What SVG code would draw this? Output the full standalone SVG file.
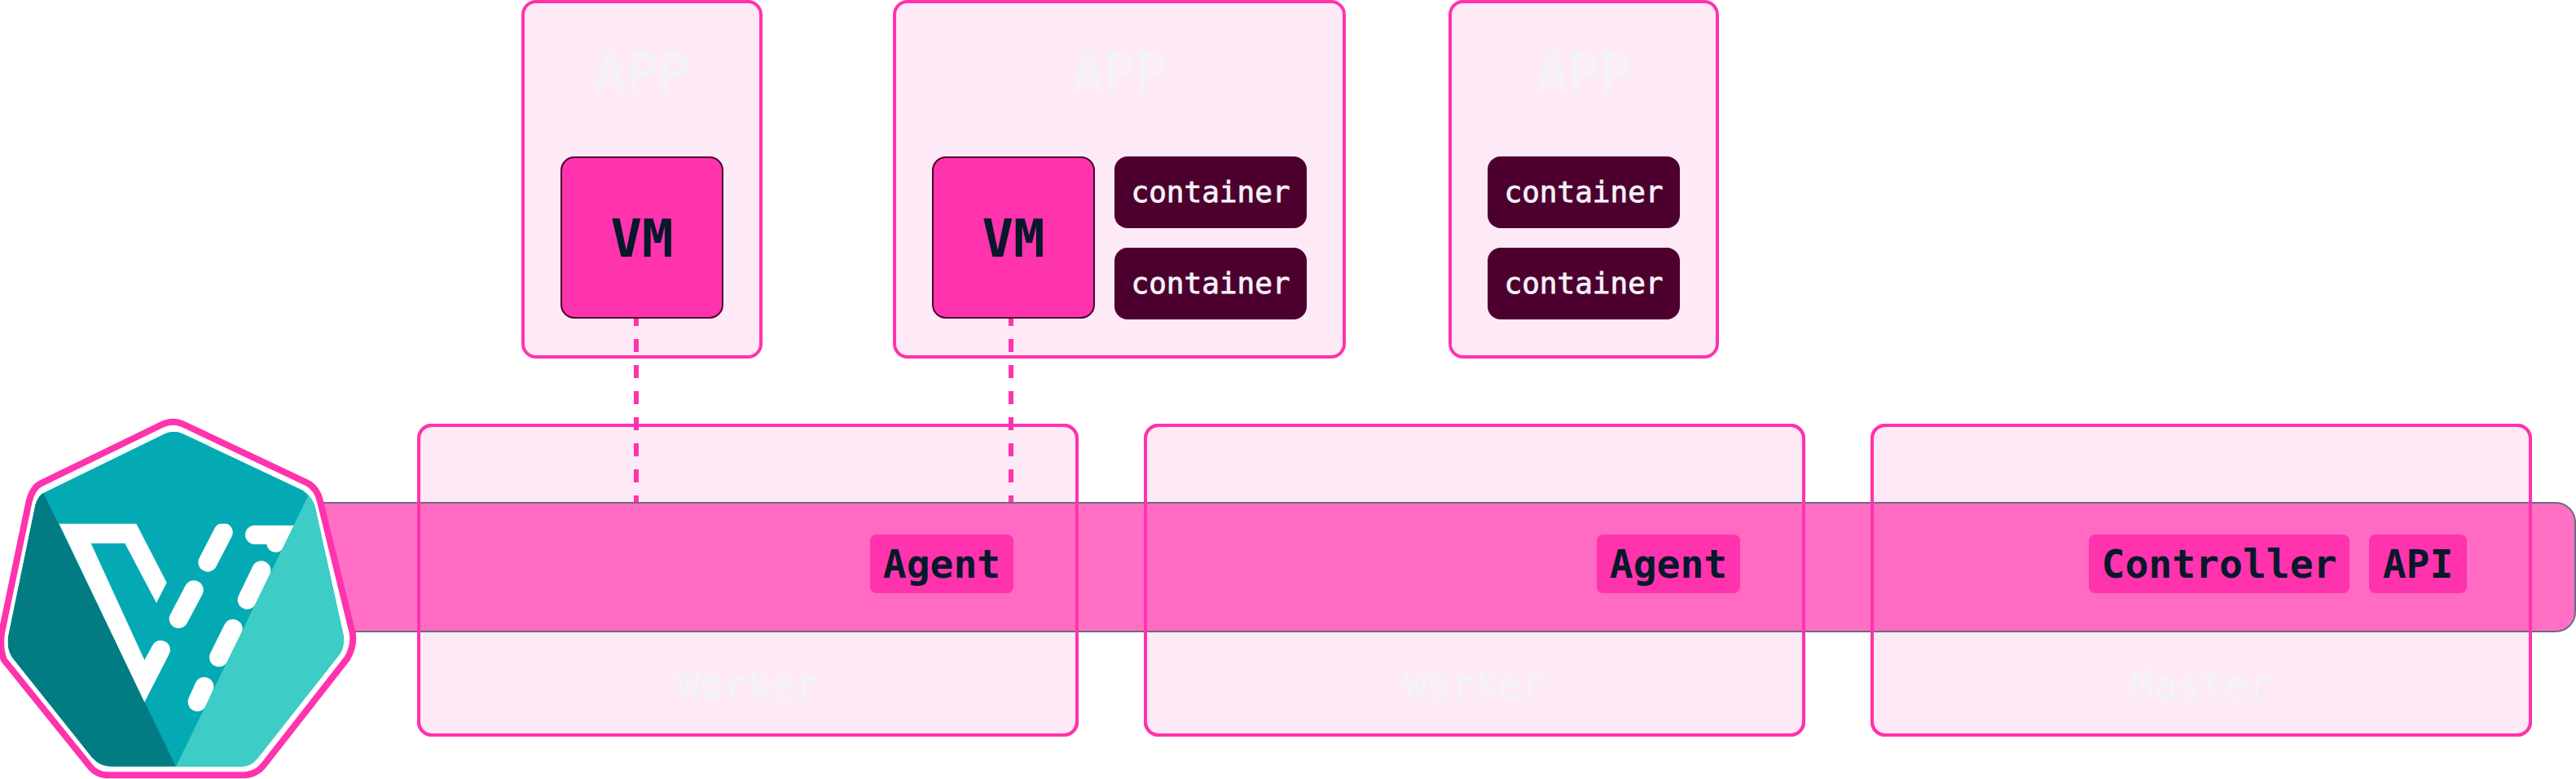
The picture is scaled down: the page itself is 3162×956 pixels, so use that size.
<svg xmlns="http://www.w3.org/2000/svg" width="3162" height="956" viewBox="0 0 3162 956">
<style>
text{font-family:"DejaVu Sans Mono","Liberation Mono",monospace;font-weight:700;text-anchor:middle}
.box{fill:#FEE9F6;stroke:#FF33AD;stroke-width:4}
.outline{fill:none;stroke:#FF33AD;stroke-width:4}
.vm{fill:#FF33AD;stroke:#4D002E;stroke-width:2}
.ctr{fill:#4D002E}
.tag{fill:#FF33AD}
.ghost{fill:#F4F1F7;font-weight:400;stroke:#F4F1F7;stroke-width:1.5}
.big{font-size:64px}
.mid{font-size:48px}
.small{font-size:36px;font-weight:400;stroke:#F4F2F7;stroke-width:0.8}
.dark{fill:#07182B}
.light{fill:#F4F2F7}
.link{stroke:#FF33AD;stroke-width:6;stroke-dasharray:16 16;fill:none}
.dash{stroke:#fff;stroke-width:70;stroke-linecap:round;fill:none}
</style>
<defs>
<clipPath id="logoClip"><path d="M610,95Q640,84 670,95L1115,305Q1150,330 1160,365L1265,840Q1270,880 1250,910L950,1290Q925,1322 890,1322L410,1322Q370,1322 340,1290L45,920Q25,890 30,845L130,360Q140,325 160,315Z"/></clipPath>
<clipPath id="dashClip"><rect x="0" y="428" width="1380" height="900"/></clipPath>
</defs>

<g id="app-1"><rect class="box" x="642" y="2" width="292" height="436" rx="16"/><text class="ghost big" x="788" y="112">APP</text></g>
<g id="app-2"><rect class="box" x="1098" y="2" width="552" height="436" rx="16"/><text class="ghost big" x="1374" y="112">APP</text></g>
<g id="app-3"><rect class="box" x="1780" y="2" width="328" height="436" rx="16"/><text class="ghost big" x="1944" y="112">APP</text></g>

<g id="worker-1"><rect class="box" x="514" y="522" width="808" height="380" rx="16"/><text class="ghost mid" x="918" y="857">Worker</text></g>
<g id="worker-2"><rect class="box" x="1406" y="522" width="808" height="380" rx="16"/><text class="ghost mid" x="1810" y="857">Worker</text></g>
<g id="master"><rect class="box" x="2298" y="522" width="808" height="380" rx="16"/><text class="ghost mid" x="2702" y="857">Master</text></g>

<g id="connectors">
<line class="link" x1="781" y1="384" x2="781" y2="616"/>
<line class="link" x1="1241" y1="384" x2="1241" y2="616"/>
</g>

<g id="vm-1"><rect class="vm" x="689" y="193" width="198" height="197" rx="16"/><text class="dark big" x="788" y="315">VM</text></g>
<g id="vm-2"><rect class="vm" x="1145" y="193" width="198" height="197" rx="16"/><text class="dark big" x="1244" y="315">VM</text></g>
<g id="container-1"><rect class="ctr" x="1368" y="192" width="236" height="88" rx="16"/><text class="light small" x="1486" y="248">container</text></g>
<g id="container-2"><rect class="ctr" x="1368" y="304" width="236" height="88" rx="16"/><text class="light small" x="1486" y="360">container</text></g>
<g id="container-3"><rect class="ctr" x="1826" y="192" width="236" height="88" rx="16"/><text class="light small" x="1944" y="248">container</text></g>
<g id="container-4"><rect class="ctr" x="1826" y="304" width="236" height="88" rx="16"/><text class="light small" x="1944" y="360">container</text></g>

<g id="band"><rect x="330" y="617" width="2831" height="158" rx="24" fill="#FF33AD" fill-opacity="0.7" stroke="#6B6B80" stroke-width="2"/></g>
<g id="outlines">
<rect class="outline" x="514" y="522" width="808" height="380" rx="16"/>
<rect class="outline" x="1406" y="522" width="808" height="380" rx="16"/>
<rect class="outline" x="2298" y="522" width="808" height="380" rx="16"/>
</g>

<g id="agent-1"><rect class="tag" x="1068" y="656" width="176" height="72" rx="8"/><text class="dark mid" x="1156" y="709">Agent</text></g>
<g id="agent-2"><rect class="tag" x="1960" y="656" width="176" height="72" rx="8"/><text class="dark mid" x="2048" y="709">Agent</text></g>
<g id="controller"><rect class="tag" x="2564" y="656" width="320" height="72" rx="8"/><text class="dark mid" x="2724" y="709">Controller</text></g>
<g id="api"><rect class="tag" x="2908" y="656" width="120" height="72" rx="8"/><text class="dark mid" x="2968" y="709">API</text></g>

<g id="logo" transform="translate(0,500) scale(0.33333)">
<path d="M590,66Q637,40 684,66L1130,277Q1170,297 1180,350L1298,830Q1306,880 1278,925L975,1312Q945,1354 890,1354L400,1354Q355,1354 328,1318L15,930Q-2,890 6,830L106,350Q118,297 150,280Z" fill="#fff" stroke="#FF33AD" stroke-width="24"/>
<g clip-path="url(#logoClip)">
<rect x="0" y="60" width="1380" height="1300" fill="#03AAB4"/>
<polygon points="160,315 648,1322 0,1340 0,300" fill="#027C82"/>
<path d="M218,428L502,428L614,645L576,720L460,500L335,500L532,930L562,875A34,34 0 0 1 622,910L532,1085Z" fill="#fff"/>
<g clip-path="url(#dashClip)">
<path class="dash" d="M822,460L765,570M714,672L658,778M962,600L910,708M858,815L806,920M752,1028L727,1084M938,469L1120,469"/>
<circle cx="1015" cy="500" r="33" fill="#fff"/>
</g>
<polygon points="1135,325 648,1322 1380,1340 1380,300" fill="#3DCDC6"/>
</g>
</g>
</svg>
